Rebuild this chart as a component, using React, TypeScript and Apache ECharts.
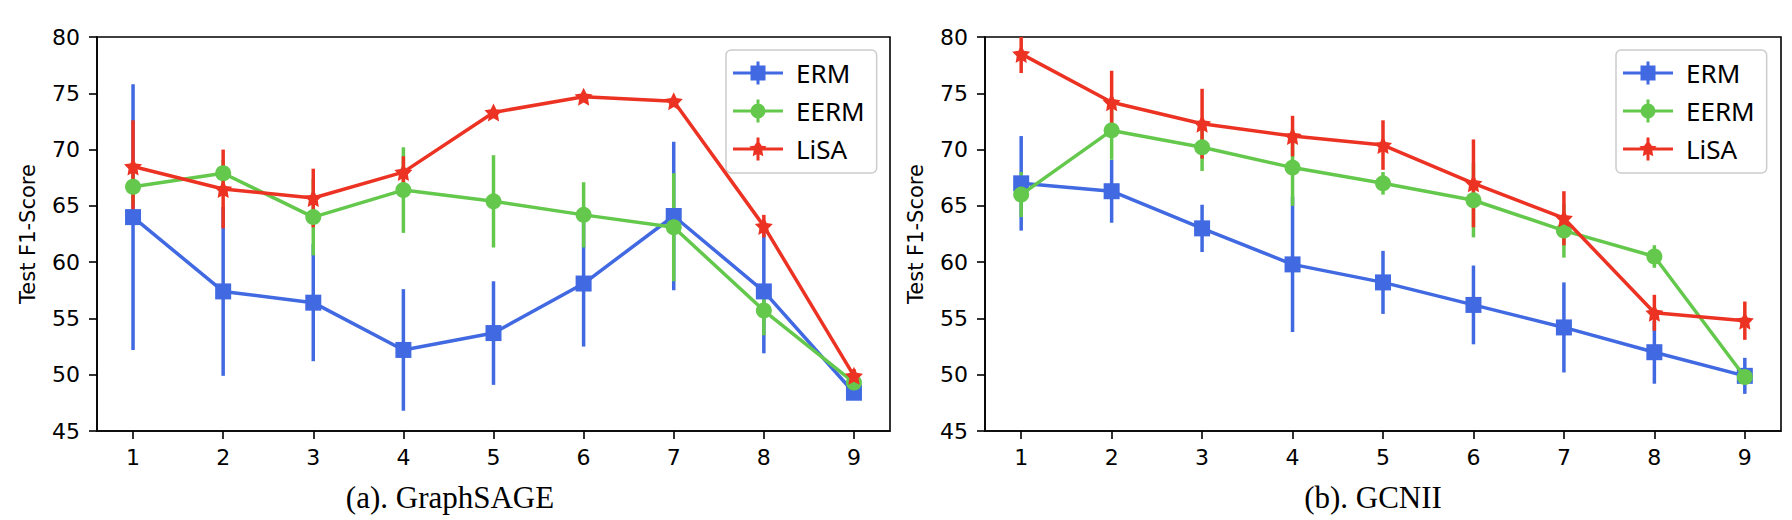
import React, { useEffect, useRef } from "react";
import * as echarts from "echarts";

// ---------- data ----------
const X_TICKS = [1, 2, 3, 4, 5, 6, 7, 8, 9];
const SERIES_NAMES = ["ERM", "EERM", "LiSA"];
const PANEL_TITLES = ["(a). GraphSAGE", "(b). GCNII"];
const Y_NAME = "Test F1-Score";

// (a) GraphSAGE
const SAGE_ERM_MEAN = [64.0, 57.4, 56.4, 52.2, 53.7, 58.1, 64.1, 57.4, 48.4];
const SAGE_ERM_ERR = [11.8, 7.5, 5.2, 5.4, 4.6, 5.6, 6.6, 5.5, 0.6];
const SAGE_EERM_MEAN = [66.7, 67.9, 64.0, 66.4, 65.4, 64.2, 63.1, 55.7, 49.3];
const SAGE_EERM_ERR = [1.5, 1.2, 3.4, 3.8, 4.1, 2.9, 4.8, 2.2, 0.5];
const SAGE_LISA_MEAN = [68.5, 66.5, 65.7, 68.0, 73.3, 74.7, 74.3, 63.2, 49.9];
const SAGE_LISA_ERR = [4.1, 3.5, 2.6, 1.4, 0.3, 0.4, 0.3, 1.0, 0.6];

// (b) GCNII
const GCNII_ERM_MEAN = [67.0, 66.3, 63.0, 59.8, 58.2, 56.2, 54.2, 52.0, 49.9];
const GCNII_ERM_ERR = [4.2, 2.8, 2.1, 6.0, 2.8, 3.5, 4.0, 2.8, 1.6];
const GCNII_EERM_MEAN = [66.0, 71.7, 70.2, 68.4, 67.0, 65.5, 62.8, 60.5, 49.8];
const GCNII_EERM_ERR = [2.0, 2.6, 2.1, 3.4, 1.0, 3.3, 2.4, 1.0, 0.5];
const GCNII_LISA_MEAN = [78.5, 74.2, 72.3, 71.2, 70.4, 67.0, 63.9, 55.5, 54.8];
const GCNII_LISA_ERR = [1.7, 2.8, 3.1, 1.8, 2.2, 3.9, 2.4, 1.6, 1.7];

// ---------- style ----------
const COLORS = ["#4169E1", "#64C84C", "#EC3323"];
const STAR =
  "path://M50,0 L64.69,29.78 L97.55,34.55 L73.78,57.73 L79.39,90.45 L50,75 L20.61,90.45 L26.22,57.73 L2.45,34.55 L35.31,29.78 Z";
const SYMBOLS = ["rect", "circle", STAR];
const SYMBOL_SIZES = [16, 16, 18];
const LINE_W = 3.5;

const BASE_H = "M0,10 L50,10 L50,13 L0,13 Z ";
const BASE_V = "M23.5,0 L26.5,0 L26.5,23 L23.5,23 Z ";
const LEGEND_ICONS = [
  "path://" + BASE_H + BASE_V + "M17.5,4 L32.5,4 L32.5,19 L17.5,19 Z",
  "path://" + BASE_H + BASE_V + "M32.5,11.5 A7.5,7.5 0 1 1 17.5,11.5 A7.5,7.5 0 1 1 32.5,11.5 Z",
  "path://" +
    BASE_H +
    BASE_V +
    "M25,2.5 L28.7,8.2 L33.6,8.7 L29.3,13 L30.3,18.8 L25,16 L19.7,18.8 L20.7,13 L16.4,8.7 L21.3,8.2 Z",
];

const PANELS = [
  {
    means: [SAGE_ERM_MEAN, SAGE_EERM_MEAN, SAGE_LISA_MEAN],
    errs: [SAGE_ERM_ERR, SAGE_EERM_ERR, SAGE_LISA_ERR],
    grid: { left: 97, top: 37, width: 793, height: 394 },
    legendLeft: 726,
    titleX: 450,
  },
  {
    means: [GCNII_ERM_MEAN, GCNII_EERM_MEAN, GCNII_LISA_MEAN],
    errs: [GCNII_ERM_ERR, GCNII_EERM_ERR, GCNII_LISA_ERR],
    grid: { left: 985, top: 37, width: 796, height: 394 },
    legendLeft: 1616,
    titleX: 1373,
  },
];

function buildOption() {
  const series: any[] = [];
  PANELS.forEach((p, pi) => {
    // error bars first (all below the lines)
    SERIES_NAMES.forEach((name, k) => {
      const color = COLORS[k];
      series.push({
        type: "custom",
        name,
        xAxisIndex: pi,
        yAxisIndex: pi,
        clip: true,
        z: 2 + k,
        silent: true,
        itemStyle: { color },
        encode: { x: 0, y: [1, 2] },
        data: X_TICKS.map((x, i) => [x, p.means[k][i] - p.errs[k][i], p.means[k][i] + p.errs[k][i]]),
        renderItem: (_params: any, api: any) => {
          const lo = api.coord([api.value(0), api.value(1)]);
          const hi = api.coord([api.value(0), api.value(2)]);
          return {
            type: "line",
            shape: { x1: lo[0], y1: lo[1], x2: hi[0], y2: hi[1] },
            style: { stroke: color, lineWidth: LINE_W },
          };
        },
      });
    });
    SERIES_NAMES.forEach((name, k) => {
      const color = COLORS[k];
      series.push({
        type: "line",
        name,
        xAxisIndex: pi,
        yAxisIndex: pi,
        z: 6 + k,
        silent: true,
        symbol: SYMBOLS[k],
        symbolSize: SYMBOL_SIZES[k],
        showAllSymbol: true,
        lineStyle: { color, width: LINE_W },
        itemStyle: { color, borderWidth: 0 },
        emphasis: { disabled: true },
        data: X_TICKS.map((x, i) => [x, p.means[k][i]]),
      });
    });
  });

  return {
    animation: false,
    backgroundColor: "#ffffff",
    grid: PANELS.map((p) => ({
      ...p.grid,
      show: true,
      borderColor: "#000",
      borderWidth: 1.6,
      backgroundColor: "transparent",
      containLabel: false,
    })),
    xAxis: PANELS.map((_p, i) => ({
      type: "value",
      gridIndex: i,
      min: 0.6,
      max: 9.4,
      axisLine: { show: true, lineStyle: { color: "#000", width: 1.6 } },
      axisTick: {
        show: true,
        length: 8,
        customValues: X_TICKS,
        lineStyle: { color: "#000", width: 1.6 },
      },
      axisLabel: {
        customValues: X_TICKS,
        margin: 15,
        color: "#000",
        fontSize: 22,
        fontFamily: "DejaVu Sans",
      },
      splitLine: { show: false },
    })),
    yAxis: PANELS.map((_p, i) => ({
      type: "value",
      gridIndex: i,
      min: 45,
      max: 80,
      interval: 5,
      name: Y_NAME,
      nameLocation: "middle",
      nameGap: 59,
      nameTextStyle: { fontSize: 21, fontFamily: "DejaVu Sans", color: "#000" },
      axisLine: { show: true, lineStyle: { color: "#000", width: 1.6 } },
      axisTick: { show: true, length: 8, lineStyle: { color: "#000", width: 1.6 } },
      axisLabel: { margin: 17, color: "#000", fontSize: 22, fontFamily: "DejaVu Sans" },
      splitLine: { show: false },
    })),
    legend: PANELS.map((p) => ({
      left: p.legendLeft,
      top: 50,
      orient: "vertical",
      itemWidth: 50,
      itemHeight: 23,
      itemGap: 12,
      padding: [10, 12, 11, 7],
      borderColor: "#cccccc",
      borderWidth: 1.5,
      borderRadius: 5,
      backgroundColor: "#ffffff",
      selectedMode: false,
      itemStyle: { borderWidth: 0 },
      textStyle: { fontSize: 26, fontFamily: "Noto Sans", color: "#000", padding: [0, 0, 0, 8] },
      data: SERIES_NAMES.map((n, k) => ({ name: n, icon: LEGEND_ICONS[k], itemStyle: { color: COLORS[k] } })),
    })),
    graphic: PANELS.map((p, i) => ({
      type: "text",
      x: p.titleX,
      y: 497,
      style: {
        text: PANEL_TITLES[i],
        align: "center",
        verticalAlign: "middle",
        font: '31px "Liberation Serif"',
        fill: "#000",
      },
    })),
    series,
  };
}

export default function App() {
  const ref = useRef<HTMLDivElement>(null);
  useEffect(() => {
    if (!ref.current) return;
    const chart = echarts.init(ref.current, undefined, { renderer: "svg" });
    chart.setOption(buildOption() as any);
    return () => chart.dispose();
  }, []);
  return (
    <div
      ref={ref}
      style={{ position: "fixed", left: 0, top: 0, width: 1792, height: 520, background: "#fff" }}
    />
  );
}
